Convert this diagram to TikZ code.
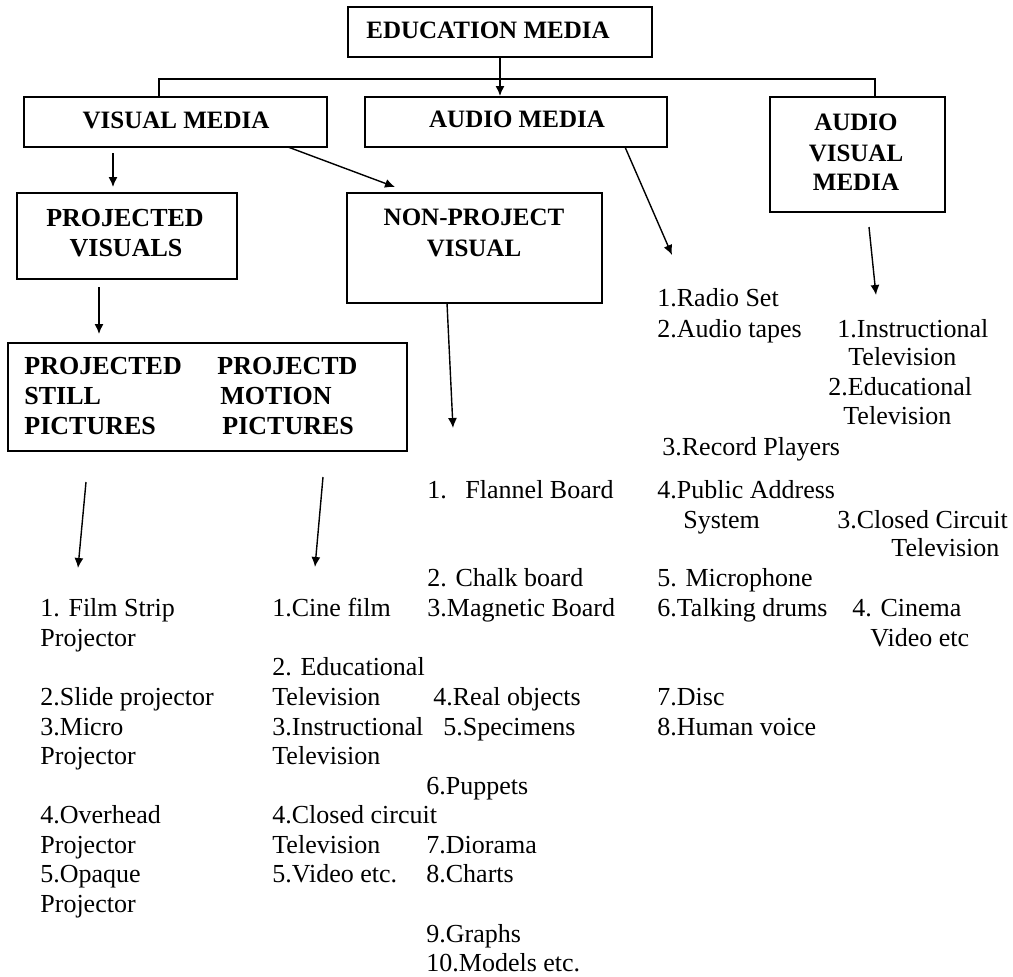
\documentclass[tikz,border=0pt]{standalone}
\usepackage{fontspec}
\setmainfont{Liberation Serif}
\usetikzlibrary{arrows.meta,fit}
\begin{document}
\begin{tikzpicture}[x=0.5pt,y=-0.5pt,
  box/.style={draw, line width=1pt, inner sep=0pt},
  hd/.style={font=\fontsize{12.5}{15}\selectfont\bfseries, inner sep=0pt, anchor=base},
  hdl/.style={font=\fontsize{13}{15}\selectfont\bfseries, inner sep=0pt, anchor=base west},
  hdc/.style={font=\fontsize{13}{15}\selectfont\bfseries, inner sep=0pt, anchor=base},
  item/.style={font=\fontsize{13}{15}\selectfont, inner sep=0pt, anchor=base west},
  arr/.style={line width=0.7pt, -{Latex[length=5pt,width=4.5pt]}},
  ln/.style={line width=0.9pt}]
\useasboundingbox (0,0) rectangle (1013,976);
\fill[white] (0,0) rectangle (1013,976);

% boxes
\node[box, fit={(348,7) (652,57)}] (edu) {};
\node[box, fit={(24,97) (327,147)}] (vm) {};
\node[box, fit={(365,97) (667,147)}] (am) {};
\node[box, fit={(770,97) (945,212)}] (avm) {};
\node[box, fit={(17,193) (237,279)}] (pv) {};
\node[box, fit={(347,193) (602,303)}] (npv) {};
\node[box, fit={(8,343) (407,451)}] (psp) {};

% box labels
\node[hd] (tedu) at (488,38) {EDUCATION MEDIA};
\node[hd] (tvm) at (176,128) {VISUAL MEDIA};
\node[hd] (tam) at (517,127) {AUDIO MEDIA};
\node[hd] (tavm1) at (856,130) {AUDIO};
\node[hd] (tavm2) at (856,161) {VISUAL};
\node[hd] (tavm3) at (856,190) {MEDIA};
\node[hdc] (tpv1) at (125,226) {PROJECTED};
\node[hdc] (tpv2) at (126,256) {VISUALS};
\node[hd] (tnpv1) at (474,225) {NON-PROJECT};
\node[hd] (tnpv2) at (474,256) {VISUAL};
\node[hdl] (tps1) at (24,374) {PROJECTED};
\node[hdl] (tps2) at (24,404) {STILL};
\node[hdl] (tps3) at (24,434) {PICTURES};
\node[hdl] (tpm1) at (217,374) {PROJECTD};
\node[hdl] (tpm2) at (220,404) {MOTION};
\node[hdl] (tpm3) at (222,434) {PICTURES};

% bus connector
\coordinate (busL) at (159,79);
\coordinate (busR) at (875,79);
\draw[ln] (vm.north -| busL) -- (busL) -- (busR) -- (avm.north -| busR);
\draw[arr] (edu.south) -- (edu.south |- am.north);

% free arrows
\coordinate (a1s) at (113,153); \coordinate (a1e) at (113,187);
\coordinate (a2s) at (288,147); \coordinate (a2e) at (395,187);
\coordinate (a3s) at (625,147); \coordinate (a3e) at (672,255);
\coordinate (a4s) at (869,227); \coordinate (a4e) at (876,295);
\coordinate (a5s) at (99,287);  \coordinate (a5e) at (99,334);
\coordinate (a6s) at (447,303); \coordinate (a6e) at (453,428);
\coordinate (a7s) at (86,482);  \coordinate (a7e) at (78,568);
\coordinate (a8s) at (323,477); \coordinate (a8e) at (315,567);
\draw[arr] (a1s) -- (a1e);
\draw[arr] (a2s) -- (a2e);
\draw[arr] (a3s) -- (a3e);
\draw[arr] (a4s) -- (a4e);
\draw[arr] (a5s) -- (a5e);
\draw[arr] (a6s) -- (a6e);
\draw[arr] (a7s) -- (a7e);
\draw[arr] (a8s) -- (a8e);

% projected still pictures list
\node[item] (s1a) at (40,616) {1. Film Strip};
\node[item] (s1b) at (40,646) {Projector};
\node[item] (s2) at (40,705) {2.Slide projector};
\node[item] (s3a) at (40,735) {3.Micro};
\node[item] (s3b) at (40,764) {Projector};
\node[item] (s4a) at (40,823) {4.Overhead};
\node[item] (s4b) at (40,853) {Projector};
\node[item] (s5a) at (40,882) {5.Opaque};
\node[item] (s5b) at (40,912) {Projector};

% projected motion pictures list
\node[item] (m1) at (272,616) {1.Cine film};
\node[item] (m2a) at (272,675) {2. Educational};
\node[item] (m2b) at (272,705) {Television};
\node[item] (m3a) at (272,735) {3.Instructional};
\node[item] (m3b) at (272,764) {Television};
\node[item] (m4a) at (272,823) {4.Closed circuit};
\node[item] (m4b) at (272,853) {Television};
\node[item] (m5) at (272,882) {5.Video etc.};

% non-project visual list
\node[item] (n1) at (427,498) {1.\hspace{9.3pt}Flannel Board};
\node[item] (n2) at (427,586) {2. Chalk board};
\node[item] (n3) at (427,616) {3.Magnetic Board};
\node[item] (n4) at (433,705) {4.Real objects};
\node[item] (n5) at (443,735) {5.Specimens};
\node[item] (n6) at (426,794) {6.Puppets};
\node[item] (n7) at (426,853) {7.Diorama};
\node[item] (n8) at (426,882) {8.Charts};
\node[item] (n9) at (426,942) {9.Graphs};
\node[item] (n10) at (426,971) {10.Models etc.};

% audio media list
\node[item] (au1) at (657,306) {1.Radio Set};
\node[item] (au2) at (657,337) {2.Audio tapes};
\node[item] (au3) at (662,455) {3.Record Players};
\node[item] (au4a) at (657,498) {4.Public Address};
\node[item] (au4b) at (683,528) {System};
\node[item] (au5) at (657,586) {5. Microphone};
\node[item] (au6) at (657,616) {6.Talking drums};
\node[item] (au7) at (657,705) {7.Disc};
\node[item] (au8) at (657,735) {8.Human voice};

% audio visual media list
\node[item] (av1a) at (837,337) {1.Instructional};
\node[item] (av1b) at (848,365) {Television};
\node[item] (av2a) at (828,395) {2.Educational};
\node[item] (av2b) at (843,424) {Television};
\node[item] (av3a) at (837,528) {3.Closed Circuit};
\node[item] (av3b) at (891,556) {Television};
\node[item] (av4a) at (852,616) {4. Cinema};
\node[item] (av4b) at (870,646) {Video etc};
\end{tikzpicture}
\end{document}
